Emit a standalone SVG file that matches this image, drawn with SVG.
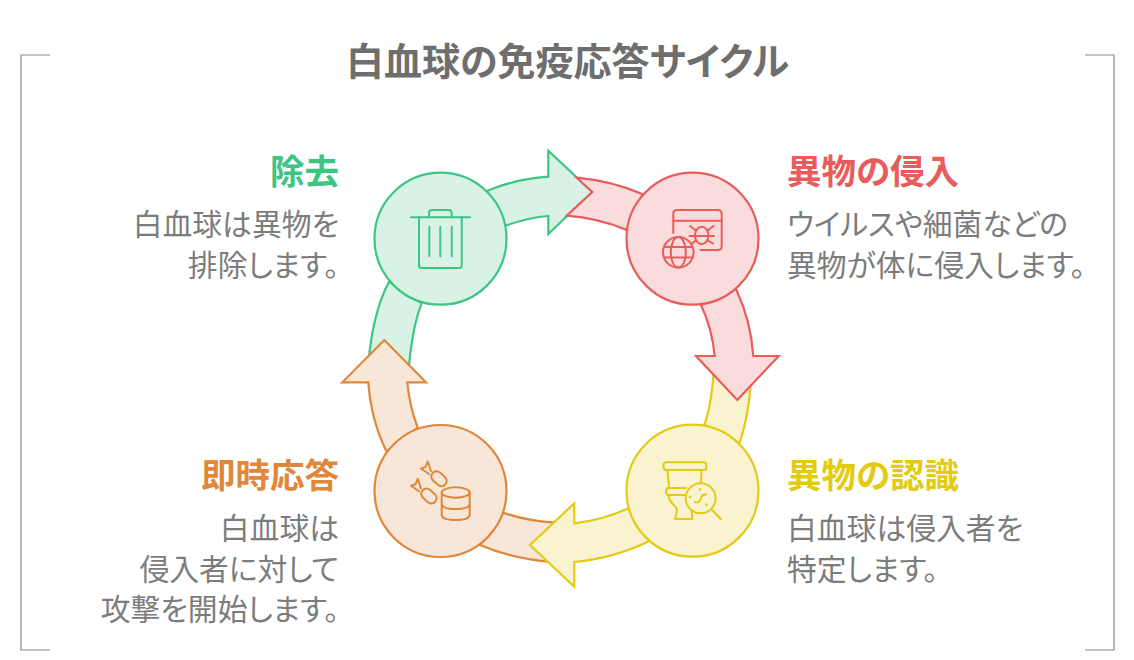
<svg xmlns="http://www.w3.org/2000/svg" width="1134" height="660" viewBox="0 0 1134 660">
<style>
text{font-family:"Noto Sans CJK JP","Noto Sans",sans-serif;font-feature-settings:"palt"}
.t{font-size:38px;font-weight:700;fill:#6e6e6e;text-anchor:middle}
.h{font-size:34.500px;font-weight:700}
.b{font-size:29.800px;fill:#7c7c7c}
.e{text-anchor:end}
.a,.c{stroke-width:2.200;stroke-linejoin:miter}
.i{fill:none;stroke-width:2;stroke-linecap:round;stroke-linejoin:round}
.g .a,.g .c{fill:#d8f3e5;stroke:#3cc583}.g .i{stroke:#3cc583}
.r .a,.r .c{fill:#fadcdc;stroke:#e85c5c}.r .i{stroke:#e85c5c}
.y .a,.y .c{fill:#f9f3cf;stroke:#e3cb14}.y .i{stroke:#e3cb14}
.o .a,.o .c{fill:#f8e6d8;stroke:#e0873a}.o .i{stroke:#e0873a}
</style>
<rect width="1134" height="660" fill="#fff"/>
<g id="frame" fill="none" stroke="#8a8a8a" stroke-width="1.200">
<path d="M50 55H21V650H50"/><path d="M1085 55H1114V650H1085"/>
</g>
<text class="t" x="567.500" y="75">白血球の免疫応答サイクル</text>
<g id="connectors">
<g class="g"><path class="a" d="M389 281.700Q373 312 368.500 362L384.300 372L408.500 372Q412 327 421.700 303.300Z"/>
<path class="a" d="M486.700 191Q515 179 548.300 176.700V150.700L592.300 192L548.300 234V216Q528 217.500 505.700 225.700Z"/></g>
<g class="o"><path class="a" d="M480 545Q512 559 556 562.500L566 540L556 522.700Q527 521 503.300 512.700Z"/>
<path class="a" d="M386.700 451.700Q371 420 368.300 382.300H342.300L384.300 340L426 382.300H407.300Q409.500 406 417.700 427.700Z"/></g>
<g class="y"><path class="a" d="M704.300 425Q712 404 714 366L737 380L751.800 366Q750 414 739.300 443.300Z"/>
<path class="a" d="M628.300 508.300Q603 520 574.300 523.300V503.300L530 545L574.300 586.700V562Q615 558 649.300 541Z"/></g>
<g class="r"><path class="a" d="M576.700 177.700Q612 181 642.700 194.300L626.700 230Q598 218 566.700 215.700L592.300 192Z"/>
<path class="a" d="M736 289Q751 321 753.300 356H778.700L737.300 400L696 356H714.700Q712 328 701 305Z"/></g>
</g>
<g id="node-remove" class="g">
<circle class="c" cx="440.500" cy="238.700" r="66"/>
<g class="i"><path d="M411 217.300H470"/><path d="M419 217.300V265.500Q419 268 421.500 268H459.200Q461.700 268 461.700 265.500V217.300"/><path d="M429 217.300V213Q429 210 432 210H448.700Q451.700 210 451.700 213V217.300"/><path d="M429.300 226.700V256.300M440.300 226.700V256.300M451.700 226.700V256.300"/></g>
<text class="h e" x="339" y="184" fill="#3cc583">除去</text>
<text class="b e" x="339" y="235">白血球は異物を</text>
<text class="b e" x="339" y="276">排除します。</text>
</g>
<g id="node-invasion" class="r">
<circle class="c" cx="692.500" cy="238.700" r="66"/>
<g class="i"><path d="M673.300 233V214Q673.300 210 677.300 210H717.700Q721.700 210 721.700 214V246Q721.700 250 717.700 250H700.500"/><path d="M673.300 220.700H721.700"/>
<ellipse cx="701.700" cy="235.500" rx="6.700" ry="8.700"/><path d="M690 226L696 230.500M713.500 226L707.500 230.500M689.500 236H714M692 243.500L696.500 240M713 243.500L707 240"/>
<circle cx="678.300" cy="252.300" r="15.300"/><ellipse cx="678.300" cy="252.300" rx="7.500" ry="15.300"/><path d="M665 247H691.500M665 257.500H691.500"/></g>
<text class="h" x="787" y="184" fill="#e85c5c">異物の侵入</text>
<text class="b" x="787" y="235">ウイルスや細菌などの</text>
<text class="b" x="787" y="276">異物が体に侵入します。</text>
</g>
<g id="node-recognition" class="y">
<circle class="c" cx="692.500" cy="490.700" r="66"/>
<g class="i"><rect x="663.500" y="462.300" width="43" height="7.700" rx="3"/><path d="M667.500 470L669 488M701.500 470L701 483"/><path d="M686 488H669Q666 488 666 491.500Q666 495 669 495H685"/><path d="M668 495Q670 503 676 507Q678 510 675 519H692.500L691.500 511"/>
<circle cx="700.700" cy="498.300" r="15"/><path d="M711.500 509.500L721 519.300"/><path d="M695 502Q700 503 701 498Q702 494 706 494.500"/></g>
<circle cx="690" cy="497" r="1.200" fill="#e3cb14"/><circle cx="700" cy="489.500" r="1.200" fill="#e3cb14"/><circle cx="706.500" cy="504.500" r="1.200" fill="#e3cb14"/>
<text class="h" x="787" y="488" fill="#e3cb14">異物の認識</text>
<text class="b" x="787" y="539">白血球は侵入者を</text>
<text class="b" x="787" y="580">特定します。</text>
</g>
<g id="node-response" class="o">
<circle class="c" cx="440.500" cy="491" r="66"/>
<g class="i"><rect x="430.500" y="473.500" width="17" height="10.500" rx="5.200" transform="rotate(42 439 478.700)"/>
<path d="M431 471L427.700 461.500L425.500 467L421 468.500L429 474"/>
<rect x="420.500" y="490.800" width="17" height="10.500" rx="5.200" transform="rotate(42 429 496)"/>
<path d="M421 488.300L417.700 478.800L415.500 484.300L411 485.800L419 491.300"/>
<ellipse cx="455.700" cy="492.500" rx="14" ry="5.200"/><path d="M441.700 492.500V514.500Q441.700 520 455.700 520Q469.700 520 469.700 514.500V492.500M441.700 503.500Q441.700 509 455.700 509Q469.700 509 469.700 503.500"/></g>
<text class="h e" x="339" y="488" fill="#e0873a">即時応答</text>
<text class="b e" x="339" y="539">白血球は</text>
<text class="b e" x="339" y="580">侵入者に対して</text>
<text class="b e" x="339" y="620">攻撃を開始します。</text>
</g>
</svg>
